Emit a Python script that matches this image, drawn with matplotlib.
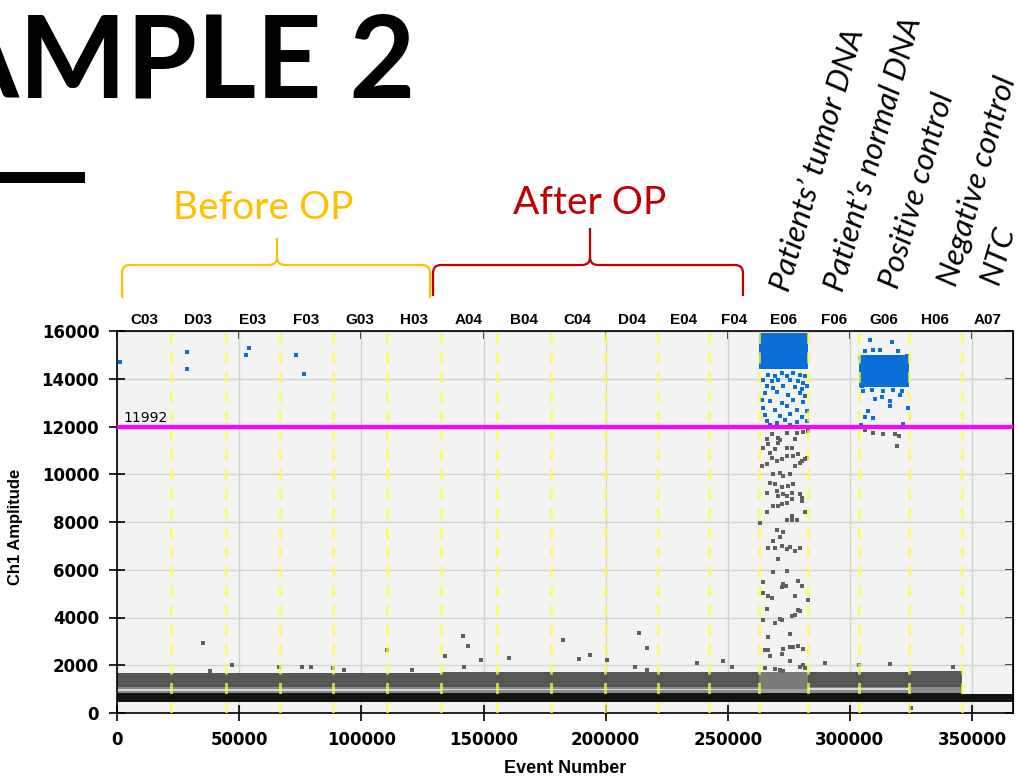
import numpy as np
import matplotlib.pyplot as plt
from matplotlib.path import Path
from matplotlib.patches import PathPatch

# wells and where each one starts / ends on the event axis
wells = ['C03', 'D03', 'E03', 'F03', 'G03', 'H03', 'A04', 'B04', 'C04', 'D04',
         'E04', 'F04', 'E06', 'F06', 'G06', 'H06', 'A07']
well_edges = [0, 21870, 44390, 66500, 88450, 110320, 132430, 155610, 177480,
              199710, 221540, 242420, 262900, 282960, 303850, 324200, 345780, 368000]

# negative droplet band (dark) and the grey band above it, per well
neg_lo = [460, 460, 460, 460, 460, 460, 460, 460, 460, 460, 460, 460, 460, 460, 460, 460, 470]
neg_hi = [830, 830, 830, 830, 830, 830, 830, 830, 830, 830, 830, 830, 820, 830, 830, 830, 790]
mid_hi = [1090, 1090, 1090, 1090, 1090, 1090, 1080, 1080, 1080, 1080, 1080, 1080,
          1000, 1080, 1080, 1100, np.nan]
grey_hi = [1680, 1680, 1680, 1680, 1680, 1680, 1720, 1720, 1720, 1720, 1720, 1720,
           1720, 1700, 1700, 1740, np.nan]
gap_lo = [930, 930, 930, 930, 930, 930, 960, 960, 960, 960, 960, 960,
          np.nan, 960, 960, np.nan, np.nan]
gap_hi = [1010, 1010, 1010, 1010, 1010, 1010, 1000, 1000, 1000, 1000, 1000, 1000,
          np.nan, 1030, 1030, np.nan, np.nan]

# dense positive clusters (E06, G06)
pos_lo = [np.nan] * 12 + [14400, np.nan, 13650, np.nan, np.nan]
pos_hi = [np.nan] * 12 + [15900, np.nan, 15000, np.nan, np.nan]

threshold = 11992

# scattered positive droplets
blue_evt = [1100, 28420, 28420, 52580, 54050, 73050, 76580,
            # E06
            266600, 269330, 272060, 274110, 276840, 279570, 281610, 264550, 267960, 270690,
            275470, 278880, 280930, 265920, 268650, 272740, 277520, 280250, 282300, 265230,
            270010, 274790, 279570, 281610, 263870, 267280, 272060, 276840, 280930, 264550,
            269330, 274110, 278200, 282300, 265230, 271380, 275470, 280250, 265920, 270010,
            273420, 278200, 282300, 267280, 275470,
            # G06
            308240, 317110, 306190, 309600, 312330, 319840, 304140, 323250, 305500, 308920,
            313700, 317790, 321200, 310280, 313010, 316420, 320520, 307550, 316420, 323930,
            306190, 309600, 304410, 321890, 304820]
blue_amp = [14690, 15110, 14420, 15010, 15280, 15010, 14210,
            14171, 14101, 14240, 14129, 14240, 14171, 14101, 13962, 13893, 13962,
            13962, 13893, 13823, 13684, 13614, 13712, 13656, 13573, 13684, 13406,
            13434, 13336, 13406, 13267, 13128, 13058, 12989, 13128, 13017, 12780,
            12711, 12850, 12711, 12641, 12502, 12432, 12544, 12405, 12224, 12154,
            12265, 12182, 12224, 12043, 12071,
            15603, 15520, 15144, 15214, 15186, 15144, 14866, 14935, 13475, 13545,
            13475, 13545, 13475, 13155, 13239, 13058, 13336, 12641, 12850, 12780,
            12405, 12363, 12043, 12085, 13684]

# scattered droplets below threshold
grey_evt = [35220, 37960, 46850, 66220, 75500, 79200, 88450, 92840, 110320, 120800,
            134190, 141700, 143730, 142100, 148930, 160530, 182390, 189190, 193570, 200400,
            213760, 217030, 211880, 217030, 237300, 248160, 251590, 289800, 303850, 316420,
            342340, 324900,
            # E06
            267960, 270690, 274110, 278200, 280930, 282980, 265920, 271380, 277520,
            264550, 266600, 267280, 269330, 270690, 274110, 276150, 267960, 272060, 274110,
            276840, 278880, 280250, 281610, 263870, 265920, 270010, 277520, 279570, 282300,
            268650, 271380, 272740, 275470, 267280, 269330, 272060, 274790, 276840, 265920,
            270010, 272740, 276150, 279570, 280250, 270690, 274110, 280250, 268650, 270690,
            272060, 274110, 276150, 265920, 276150, 274110, 276150, 278200, 281610, 263190,
            270010, 272740, 271380, 268650, 266600, 269330, 272060, 274110, 275470, 277520,
            279570, 270690, 268650, 274110,
            264550, 272740, 272060, 273830, 278880, 280250, 264550, 266600, 267960, 277520,
            282980, 265920, 278880, 279570, 277520, 276150, 271380, 272060, 269330, 264550,
            266600, 275470, 265230, 266600, 267280, 272740, 272060, 275470, 276840, 278880,
            280930, 275470, 279570, 280930, 265230, 269330, 271380, 272740, 281610,
            # G06
            306190, 309600, 313420, 318470, 320250, 319430]
grey_amp = [2950, 1765, 2000, 1930, 1930, 1930, 1890, 1820, 2630, 1800,
            2380, 3230, 2800, 1930, 2210, 2310, 3070, 2270, 2440, 2220,
            3370, 2740, 1930, 1820, 2100, 2160, 1930, 2100, 2000, 2040,
            1930, 200,
            11668, 11528, 11709, 11737, 11765, 11807, 11459, 11431, 11487,
            11111, 11250, 10902, 11041, 11319, 11111, 11111, 10694, 10624, 10763,
            10763, 10833, 10555, 10624, 10346, 10416, 10555, 10346, 10485, 10694,
            9998, 10068, 9929, 9998, 9651, 9581, 9470, 9512, 9581, 9234,
            9303, 9164, 9234, 9164, 9025, 9095, 9095, 8886, 8677, 8677,
            8747, 8816, 8956, 8399, 8260, 8079, 8079, 8079, 8399, 7940,
            7662, 7565, 7356, 7217, 6911, 6911, 7009, 6870, 6939, 6800,
            6911, 6452, 5896, 5966,
            5479, 5410, 5271, 5340, 5549, 5340, 5020, 4881, 4826, 4881,
            4714, 4367, 4325, 4270, 4089, 4047, 3950, 3880, 3769, 3880,
            3185, 3296, 2656, 2629, 2378, 2698, 2462, 2768, 2768, 2795,
            2698, 2184, 1933, 2003, 1864, 1822, 1794, 1767, 1864,
            11848, 11737, 11668, 11668, 11598, 11181]

plt.rcParams['font.family'] = ['Liberation Sans', 'DejaVu Sans']

fig = plt.figure(figsize=(10.2, 7.81), dpi=100)

# slide decoration layer in pixel units
deco = fig.add_axes([0, 0, 1, 1])
deco.set_xlim(0, 1020)
deco.set_ylim(781, 0)
deco.axis('off')

deco.text(415, 98, 'EXAMPLE 2', ha='right', va='baseline', fontsize=82,
          fontweight='bold', family=['Lato', 'DejaVu Sans'])
deco.add_patch(plt.Rectangle((0, 172), 85, 11, color='black', lw=0))


def brace(x0, x1, xm, ytop, ybar, ybot, color):
    r = 8
    verts = [(x0, ybot), (x0, ybar + r), (x0, ybar), (x0 + r, ybar),
             (xm - r, ybar), (xm, ybar), (xm, ybar - r), (xm, ytop),
             (xm, ybar - r), (xm, ybar), (xm + r, ybar),
             (x1 - r, ybar), (x1, ybar), (x1, ybar + r), (x1, ybot)]
    codes = [Path.MOVETO, Path.LINETO, Path.CURVE3, Path.CURVE3,
             Path.LINETO, Path.CURVE3, Path.CURVE3, Path.LINETO,
             Path.MOVETO, Path.CURVE3, Path.CURVE3,
             Path.LINETO, Path.CURVE3, Path.CURVE3, Path.LINETO]
    deco.add_patch(PathPatch(Path(verts, codes), fc='none', ec=color, lw=1.6))


brace(122, 430, 277, 238, 265, 298, '#FFC000')
brace(433, 743, 590, 228, 265, 296, '#C00000')

slide_font = dict(family=['Lato', 'DejaVu Sans'], fontweight='normal')
deco.text(263, 208, 'Before OP', color='#FFC000', fontsize=28, ha='center', va='center', **slide_font)
deco.text(590, 203, 'After OP', color='#C00000', fontsize=28, ha='center', va='center', **slide_font)

side_labels = ['Patients\u2019 tumor DNA', 'Patient\u2019s normal DNA', 'Positive control',
               'Negative control', 'NTC']
for lab, (lx, ly) in zip(side_labels, [(789, 293), (843, 293), (898, 290), (956, 288), (998, 286)]):
    deco.text(lx, ly, lab, rotation=74, rotation_mode='anchor', ha='left', va='baseline',
              fontsize=22.5, style='italic', **slide_font)

# droplet plot
ax = fig.add_axes([117.3 / 1020, 68 / 781, 895.7 / 1020, 382 / 781])
ax.set_facecolor('#f3f3f3')
ax.set_xlim(0, 366800)
ax.set_ylim(0, 16000)
ax.set_xticks(np.arange(0, 350001, 50000))
ax.set_yticks(np.arange(0, 16001, 2000))
ax.grid(True, color='#d2d2d2', lw=1)
ax.set_axisbelow(True)

left = np.array(well_edges[:-1])
width = np.diff(well_edges)
neg_lo, neg_hi = np.array(neg_lo, float), np.array(neg_hi, float)
mid_hi, grey_hi = np.array(mid_hi, float), np.array(grey_hi, float)
gap_lo, gap_hi = np.array(gap_lo, float), np.array(gap_hi, float)
pos_lo, pos_hi = np.array(pos_lo, float), np.array(pos_hi, float)

mid_col = ['#8a8a8a'] * 12 + ['#a0a0a0'] + ['#8a8a8a'] * 4
band_col = ['#575757'] * 12 + ['#7a7a7a'] + ['#575757'] * 4
ax.bar(left, mid_hi - neg_hi, width, bottom=neg_hi, align='edge', color=mid_col, lw=0, zorder=2)
ax.bar(left, grey_hi - mid_hi, width, bottom=mid_hi, align='edge', color=band_col, lw=0, zorder=2)
ax.bar(left, gap_hi - gap_lo, width, bottom=gap_lo, align='edge', color='#d8d8d8', lw=0, zorder=2)
ax.bar(left, neg_hi - neg_lo, width, bottom=neg_lo, align='edge', color='#141414', lw=0, zorder=2)
ax.bar(left, pos_hi - pos_lo, width, bottom=pos_lo, align='edge', color='#0a6fd8', lw=0, zorder=3)

ax.scatter(grey_evt, grey_amp, s=7, marker='s', color='#606060', lw=0, zorder=3)
ax.scatter(blue_evt, blue_amp, s=9, marker='s', color='#0a6fd8', lw=0, zorder=4)

ax.vlines(well_edges[1:-1], 0, 16000, colors='#ffff3c', alpha=0.75, lw=2,
          linestyles=(0, (4, 3)), zorder=5)
ax.axhline(threshold, color='#ff00ff', lw=3, zorder=6)
ax.text(2500, threshold + 180, str(threshold), fontsize=10, family='DejaVu Sans', zorder=7)

for i, w in enumerate(wells):
    xc = (well_edges[i] + min(well_edges[i + 1], 366800)) / 2
    ax.text(xc, 16150, w, ha='center', va='bottom', fontsize=11, fontweight='bold')

for sp in ax.spines.values():
    sp.set_color('black')
    sp.set_linewidth(1.2)
ax.tick_params(direction='inout', length=12, width=1.2, pad=7, colors='black',
               labelsize=12, labelfontfamily='DejaVu Sans')
for lbl in ax.get_xticklabels() + ax.get_yticklabels():
    lbl.set_fontweight('bold')

top = ax.secondary_xaxis('top')
top.set_xticks(np.arange(0, 350001, 50000))
top.tick_params(direction='in', length=6, width=1.2, labeltop=False)
right = ax.secondary_yaxis('right')
right.set_yticks(np.arange(0, 16001, 2000))
right.tick_params(direction='in', length=6, width=1.2, labelright=False)

ax.set_xlabel('Event Number', fontsize=13, fontweight='bold')
ax.xaxis.set_label_coords(0.5, -0.123)
ax.set_ylabel('Ch1 Amplitude', fontsize=12, fontweight='bold')
ax.yaxis.set_label_coords(-0.105, 0.487)

fig.savefig('out.png', dpi=100)
